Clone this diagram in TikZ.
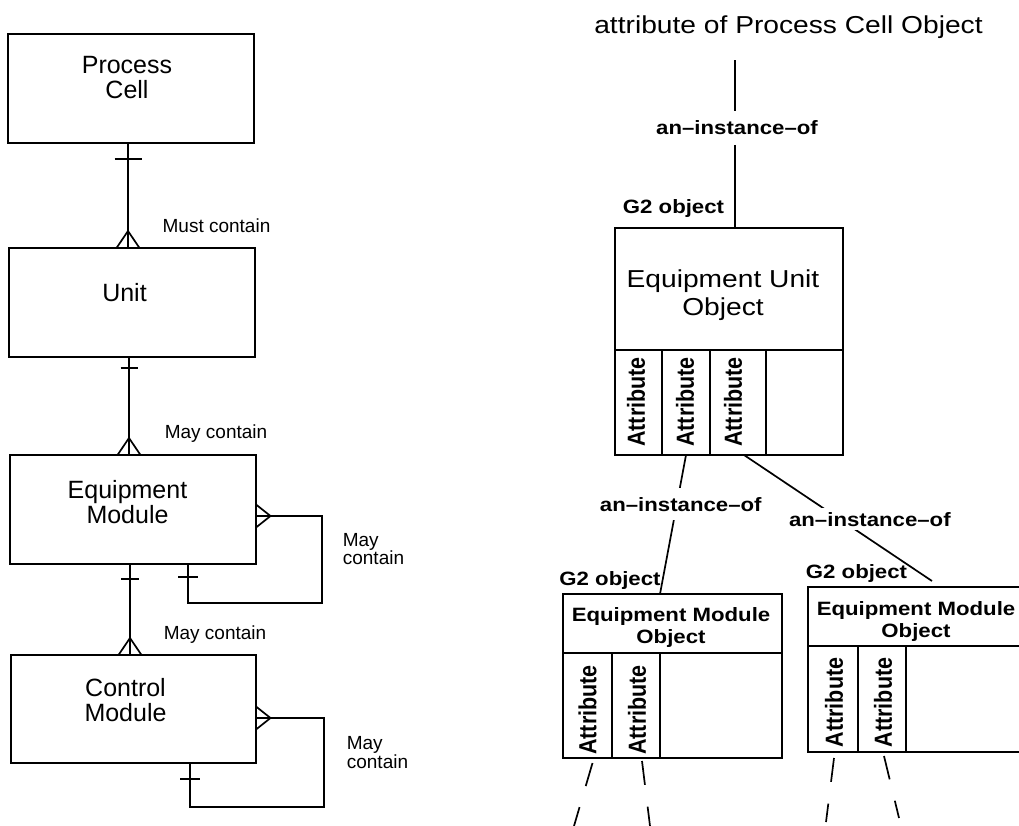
\documentclass[tikz,border=0pt]{standalone}
\usepackage{fontspec}
\setmainfont{Liberation Sans}
\newfontfamily\rfont[FakeStretch=1.15]{Liberation Sans}
\newcommand{\attrtext}{\scalebox{1}[1.15]{Attribute}}
\begin{document}
\begin{tikzpicture}[x=1pt,y=-1pt,line width=1.7pt,
 box/.style={draw,inner sep=0pt,outer sep=0pt},
 lt/.style={font=\fontsize{25}{25}\selectfont,align=center,inner sep=0pt},
 st/.style={font=\fontsize{19}{18.5}\selectfont,align=left,inner sep=0pt},
 rt/.style={font=\rfont\fontsize{24.5}{28}\selectfont,align=center,inner sep=0pt},
 bt/.style={font=\rfont\bfseries\fontsize{19.3}{22}\selectfont,align=center,inner sep=0pt},
 att/.style={font=\bfseries\fontsize{21.5}{21.5}\selectfont,rotate=90,inner sep=0pt},
 lbl/.style={bt,fill=white,inner xsep=1pt,inner ysep=9pt},
 dsh/.style={dash pattern=on 24pt off 22pt},
 crowv/.pic={\draw (-11.5,0) -- (0,-17) -- (11.5,0);},
 crowh/.pic={\draw (0,-11.5) -- (14.5,0) -- (0,11.5);},
 tick/.pic={\draw (-#1,0) -- (#1,0);}]
\useasboundingbox (0,0) rectangle (1019,825);
\fill[white] (0,0) rectangle (1019,825);
\clip (0,0) rectangle (1019,825);

% ---------- left: entity boxes ----------
\node[box,minimum width=246pt,minimum height=109pt] (pc) at (131,88.5) {};
\node[box,minimum width=246pt,minimum height=109pt] (unit) at (132,302.5) {};
\node[box,minimum width=246pt,minimum height=109pt] (em) at (133,509.5) {};
\node[box,minimum width=245pt,minimum height=108pt] (cm) at (133.5,709) {};

\node[lt] (pct) at (127,78) {Process\\Cell};
\node[lt] (unitt) at (124.5,293) {Unit};
\node[lt] (emt) at (127.5,502) {Equipment\\Module};
\node[lt] (cmt) at (125.5,700) {Control\\Module};

% Process Cell -- Unit
\draw ([xshift=-3pt]pc.south) -- ([xshift=-3pt]pc.south |- unit.north);
\pic at ([xshift=-3pt,yshift=-16pt]pc.south) {tick=13.5};
\pic at ([xshift=-3pt]pc.south |- unit.north) {crowv};
\node[st,anchor=base] (l1) at (216.5,232) {Must contain};

% Unit -- Equipment Module
\draw ([xshift=-3pt]unit.south) -- ([xshift=-3pt]unit.south |- em.north);
\pic at ([xshift=-3pt,yshift=-11pt]unit.south) {tick=8.5};
\pic at ([xshift=-3pt]unit.south |- em.north) {crowv};
\node[st,anchor=base] (l2) at (216,438) {May contain};

% Equipment Module -- Control Module
\draw ([xshift=-3pt]em.south) -- ([xshift=-3pt]em.south |- cm.north);
\pic at ([xshift=-3pt,yshift=-15pt]em.south) {tick=9};
\pic at ([xshift=-3pt]em.south |- cm.north) {crowv};
\node[st,anchor=base] (l3) at (215,639) {May contain};

% Equipment Module self loop
\draw ([yshift=-6.5pt]em.east) -- ++(66,0) |- ([xshift=55pt,yshift=-39pt]em.south) -- ([xshift=55pt]em.south);
\pic at ([yshift=-6.5pt]em.east) {crowh};
\pic at ([xshift=55pt,yshift=-13pt]em.south) {tick=10};
\node[st,anchor=west] (l4) at (342,549) {May\\contain};

% Control Module self loop
\draw ([yshift=-9pt]cm.east) -- ++(68,0) |- ([xshift=56.5pt,yshift=-44pt]cm.south) -- ([xshift=56.5pt]cm.south);
\pic at ([yshift=-9pt]cm.east) {crowh};
\pic at ([xshift=56.5pt,yshift=-16pt]cm.south) {tick=10};
\node[st,anchor=west] (l5) at (346,752.5) {May\\contain};

% ---------- right: object instances ----------
\node[rt,anchor=base] (title) at (788.5,33) {attribute of Process Cell Object};
\coordinate (top) at (735,60);

\node[box,minimum width=228pt,minimum height=227pt] (euo) at (729,341.5) {};
\node[rt] (euot) at (723,295) {Equipment Unit\\Object};
\draw ([yshift=-8.5pt]euo.west) -- ([yshift=-8.5pt]euo.east);
\draw ([xshift=-67pt]euo.south) -- ++(0,-105);
\draw ([xshift=-19pt]euo.south) -- ++(0,-105);
\draw ([xshift=37pt]euo.south) -- ++(0,-105);
\node[att] (ea1) at (636,402) {\attrtext};
\node[att] (ea2) at (685,402) {\attrtext};
\node[att] (ea3) at (733,402) {\attrtext};
\node[bt,anchor=base] (g1) at (673.5,213) {G2 object};

\node[lbl] (ai1) at (737,128) {an–instance–of};
\draw (top) -- (top |- ai1.north);
\draw (top |- ai1.south) -- (top |- euo.north);

% left equipment module object
\node[box,minimum width=219pt,minimum height=164pt] (lemo) at (672.5,676) {};
\node[bt] (lemot) at (671,627.5) {Equipment Module\\Object};
\draw ([yshift=23pt]lemo.west) -- ([yshift=23pt]lemo.east);
\draw ([xshift=-60.5pt]lemo.south) -- ++(0,-105);
\draw ([xshift=-12.5pt]lemo.south) -- ++(0,-105);
\node[att] (la1) at (587.5,710) {\attrtext};
\node[att] (la2) at (637,710) {\attrtext};
\node[bt,anchor=base] (g2) at (610,585) {G2 object};

% right equipment module object
\node[box,minimum width=222pt,minimum height=165pt] (remo) at (919,669.5) {};
\node[bt] (remot) at (916,621) {Equipment Module\\Object};
\draw ([yshift=23.5pt]remo.west) -- ([yshift=23.5pt]remo.east);
\draw ([xshift=-61pt]remo.south) -- ++(0,-106);
\draw ([xshift=-13pt]remo.south) -- ++(0,-106);
\node[att] (ra1) at (834,702.5) {\attrtext};
\node[att] (ra2) at (883,702.5) {\attrtext};
\node[bt,anchor=base] (g3) at (856.5,578) {G2 object};

% instance-of connectors
\draw ([xshift=-43pt]euo.south) -- node[lbl,pos=0.355,xshift=4pt] (ai2) {an–instance–of} ([xshift=-12.5pt]lemo.north);
\draw ([xshift=15pt]euo.south) -- node[lbl,pos=0.51,xshift=30pt,inner ysep=4pt] (ai3) {an–instance–of} ([xshift=13pt,yshift=6pt]remo.north);

% dashed continuation lines
\coordinate (d1) at (574,826);
\coordinate (d2) at (650,826);
\coordinate (d3) at (826,822);
\coordinate (d4) at (899,818);
\draw[dsh] ([xshift=-80pt,yshift=-5pt]lemo.south) -- (d1);
\draw[dsh] ([xshift=-30.5pt,yshift=-3pt]lemo.south) -- (d2);
\draw[dsh] ([xshift=-85pt,yshift=-6pt]remo.south) -- (d3);
\draw[dsh] ([xshift=-35pt,yshift=-4pt]remo.south) -- (d4);
\end{tikzpicture}
\end{document}
